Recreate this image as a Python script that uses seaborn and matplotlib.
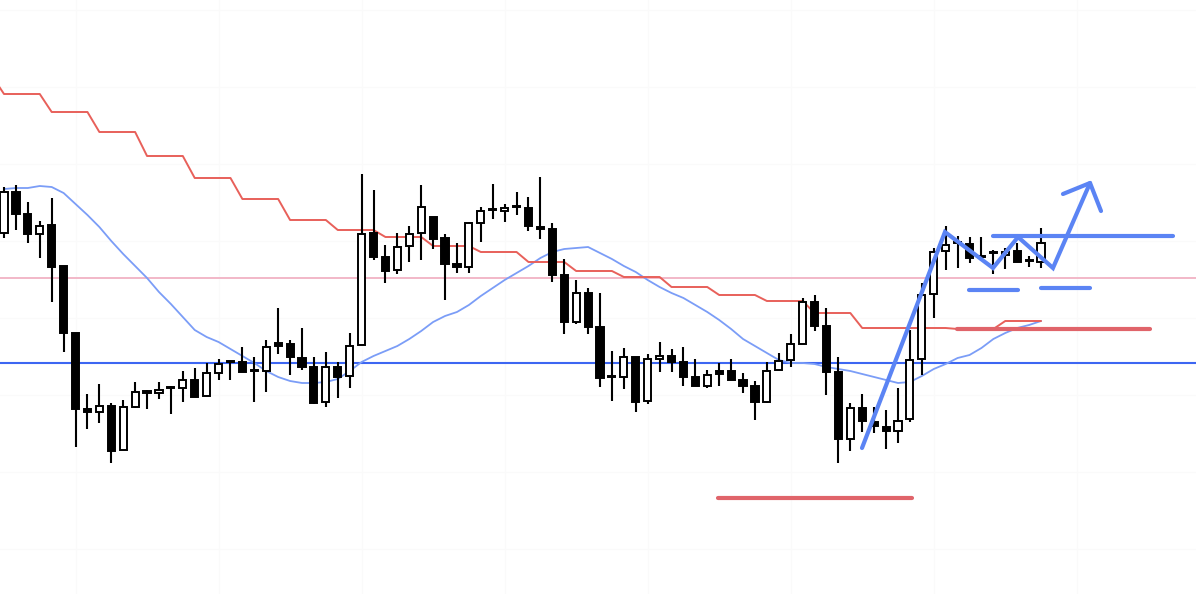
import numpy as np
import pandas as pd
import seaborn as sns
from matplotlib import pyplot as plt

# candle data (price units), one entry per bar
opens = [367, 408, 386, 366, 375, 334, 267, 191, 188, 194, 150, 193, 209, 207, 212, 212, 220, 204, 227, 239,
         238, 229, 229, 257, 256, 242, 233, 198, 233, 224, 255, 367, 343, 330, 354, 367, 383, 362, 336, 333,
         377, 390, 389, 393, 392, 373, 371, 325, 278, 307, 273, 223, 223, 243, 199, 241, 244, 238, 223, 214,
         229, 229, 220, 214, 198, 230, 240, 256, 298, 274, 228, 161, 192, 178, 173, 169, 181, 241, 306, 349,
         357, 356, 344, 347, 345, 349, 339, 338]
highs = [413, 415, 398, 379, 402, 334, 267, 206, 216, 197, 200, 218, 210, 218, 214, 229, 232, 237, 241, 239,
         253, 243, 260, 292, 260, 272, 243, 248, 238, 267, 426, 410, 355, 367, 374, 415, 383, 366, 357, 378,
         393, 416, 396, 408, 403, 423, 377, 341, 320, 312, 307, 249, 252, 243, 246, 258, 251, 253, 241, 230,
         237, 241, 227, 219, 238, 247, 266, 302, 305, 292, 243, 197, 206, 193, 190, 212, 270, 317, 352, 374,
         364, 363, 363, 350, 352, 357, 344, 372]
lows = [362, 370, 357, 342, 298, 248, 153, 171, 177, 137, 150, 192, 191, 201, 186, 198, 203, 204, 220, 220,
        228, 198, 208, 246, 225, 230, 196, 193, 202, 212, 255, 340, 317, 326, 338, 340, 351, 300, 327, 327,
        358, 381, 378, 385, 369, 361, 318, 266, 276, 266, 213, 199, 211, 188, 196, 228, 228, 214, 214, 212,
        214, 220, 207, 180, 197, 230, 233, 256, 269, 205, 137, 149, 168, 167, 151, 157, 178, 225, 282, 330,
        332, 337, 340, 326, 331, 338, 333, 332]
closes = [408, 386, 366, 374, 333, 267, 191, 188, 194, 149, 193, 208, 207, 210, 213, 220, 203, 227, 236, 238,
          228, 229, 253, 254, 243, 233, 197, 233, 223, 254, 366, 343, 329, 353, 366, 393, 361, 336, 333, 377,
          389, 391, 392, 394, 374, 371, 325, 278, 307, 273, 222, 223, 243, 198, 241, 244, 238, 223, 214, 225,
          226, 220, 214, 198, 229, 239, 256, 298, 274, 228, 161, 192, 179, 174, 169, 179, 240, 305, 348, 355,
          357, 342, 343, 347, 348, 338, 339, 357]

# moving average (blue) and stepped trailing line (red, starts one bar earlier)
ma_values = [411, 412, 412, 414, 413, 407, 396, 385, 373, 359, 346, 334, 322, 308, 296, 283, 270, 263, 258, 251,
             244, 237, 229, 223, 219, 217, 217, 218, 221, 229, 238, 244, 249, 254, 261, 269, 278, 284, 288, 295,
             304, 312, 320, 327, 334, 342, 348, 351, 352, 353, 347, 341, 334, 328, 320, 313, 307, 302, 295, 288,
             280, 271, 261, 254, 247, 240, 237, 237, 236, 233, 231, 229, 226, 223, 220, 217, 218, 224, 231, 236,
             242, 245, 252, 261, 267, 272, 275, 279]
stop_values = [524,
               506, 506, 506, 506, 488, 488, 488, 488, 468, 468, 468, 468, 444, 444, 444, 444,
               422, 422, 422, 422, 401, 401, 401, 401, 380, 380, 380, 380, 370, 370, 370, 370,
               363, 363, 363, 363, 354, 354, 354, 354, 348, 348, 348, 348, 338, 338, 338, 338,
               329, 329, 329, 329, 323, 323, 323, 323, 313, 313, 313, 313, 305, 305, 305, 305,
               299, 299, 299, 299, 287, 287, 287, 287, 272, 272, 272, 272, 272, 272, 272, 272,
               271, 271, 271, 271, 279, 279, 279, 279]

# horizontal levels
pink_level = 322
blue_level = 237

# hand-drawn annotations (bar index, price)
zigzag_x = [71.98, 78.94, 82.97, 85.07, 88.0, 91.11]
zigzag_y = [152, 368, 332, 363, 332, 417]
arrow_x = [88.84, 91.11, 92.03]
arrow_y = [406, 417, 389]
resist_x = [82.97, 98.07]
resist_y = 364
dash1_x = [80.96, 85.07]
dash1_y = 310
dash2_x = [87.0, 91.11]
dash2_y = 312
red_mid_x = [79.95, 96.14]
red_mid_y = 271
red_low_x = [59.9, 76.17]
red_low_y = 102

df = pd.DataFrame({'o': opens, 'h': highs, 'l': lows, 'c': closes})
df['i'] = np.arange(len(df))

sns.set_style("white")
fig = plt.figure(figsize=(11.96, 5.94), dpi=100)
ax = fig.add_axes([0, 0, 1, 1])

# barely visible grid
for gx in range(6, 100, 12):
    ax.axvline(gx, color='#fafafa', lw=0.8, zorder=0)
for gy in range(51, 600, 77):
    ax.axhline(gy, color='#fafafa', lw=0.8, zorder=0)

ax.axhline(pink_level, color='#f2b8c8', lw=1.4, zorder=1)
ax.axhline(blue_level, color='#3d66f2', lw=1.5, zorder=1)

sns.lineplot(x=np.arange(len(ma_values)), y=ma_values, ax=ax, color='#7b9df7', lw=1.3, zorder=2)
sns.lineplot(x=np.arange(-1, len(stop_values) - 1), y=stop_values, ax=ax, color='#e8605a', lw=1.4, zorder=2)

# candles
ax.vlines(df['i'], df['l'], df['h'], color='black', lw=1.5, zorder=3)
body_low = np.minimum(df['o'], df['c'])
body_h = np.maximum(np.abs(df['c'] - df['o']), 1.5)
colors = np.where(df['c'] > df['o'], 'white', 'black')
ax.bar(df['i'], body_h, bottom=body_low, width=0.6, color=colors, edgecolor='black', lw=1.4, zorder=4)

# annotations
blue_ann = '#5b84f4'
red_ann = '#e0646a'
ax.plot(zigzag_x, zigzag_y, color=blue_ann, lw=3, solid_capstyle='round', solid_joinstyle='miter', zorder=5)
ax.plot(arrow_x, arrow_y, color=blue_ann, lw=3, solid_capstyle='round', zorder=5)
ax.plot(resist_x, [resist_y, resist_y], color=blue_ann, lw=3, solid_capstyle='round', zorder=5)
ax.plot(dash1_x, [dash1_y, dash1_y], color=blue_ann, lw=3, solid_capstyle='round', zorder=5)
ax.plot(dash2_x, [dash2_y, dash2_y], color=blue_ann, lw=3, solid_capstyle='round', zorder=5)
ax.plot(red_mid_x, [red_mid_y, red_mid_y], color=red_ann, lw=3, solid_capstyle='round', zorder=5)
ax.plot(red_low_x, [red_low_y, red_low_y], color=red_ann, lw=3, solid_capstyle='round', zorder=5)

ax.set_xlim(-0.336, 100.0)
ax.set_ylim(6, 600)
ax.axis('off')

fig.savefig('out.png', dpi=100, facecolor='white')
